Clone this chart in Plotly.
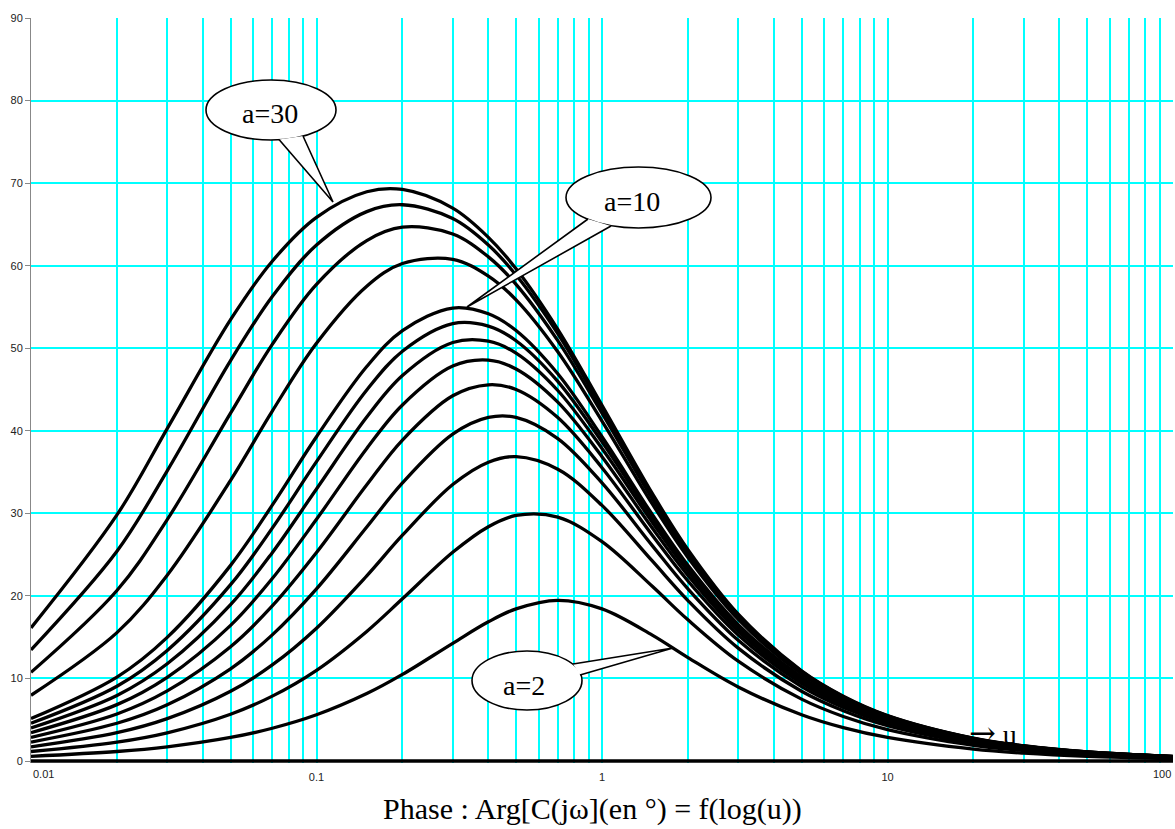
import plotly.graph_objects as go

# Normalised frequency u (log axis) and phase of C(jw) in degrees for each ratio a
u_values = [0.01, 0.02, 0.03, 0.05, 0.07, 0.1, 0.15, 0.2, 0.3, 0.4, 0.5, 0.7,
            1, 1.5, 2, 3, 5, 7, 10, 20, 30, 50, 100]

a_values = [1, 2, 3, 4, 5, 6, 7, 8, 9, 10, 15, 20, 25, 30]

phase_a1 = [0.0] * 23
phase_a2 = [0.57, 1.15, 1.72, 2.85, 3.97, 5.60, 8.17, 10.49, 14.26, 16.86, 18.43, 19.47,
            18.43, 15.25, 12.53, 8.97, 5.60, 4.04, 2.85, 1.43, 0.95, 0.57, 0.29]
phase_a3 = [1.15, 2.29, 3.42, 5.67, 7.86, 10.99, 15.70, 19.65, 25.28, 28.38, 29.74, 29.54,
            26.57, 21.16, 17.10, 12.09, 7.50, 5.40, 3.80, 1.91, 1.27, 0.76, 0.38]
phase_a4 = [1.72, 3.43, 5.13, 8.45, 11.64, 16.09, 22.43, 27.35, 33.49, 36.20, 36.87, 35.35,
            30.96, 24.23, 19.44, 13.67, 8.45, 6.09, 4.28, 2.15, 1.43, 0.86, 0.43]
phase_a5 = [2.29, 4.57, 6.81, 11.17, 15.28, 20.85, 28.34, 33.69, 39.60, 41.62, 41.62, 39.06,
            33.69, 26.09, 20.85, 14.62, 9.02, 6.49, 4.57, 2.29, 1.53, 0.92, 0.46]
phase_a6 = [2.86, 5.70, 8.49, 13.84, 18.78, 25.25, 33.45, 38.88, 44.24, 45.57, 45.00, 41.60,
            35.53, 27.35, 21.80, 15.25, 9.40, 6.76, 4.76, 2.39, 1.59, 0.96, 0.48]
phase_a7 = [3.43, 6.83, 10.14, 16.43, 22.10, 29.28, 37.86, 43.13, 47.84, 48.56, 47.49, 43.47,
            36.87, 28.22, 22.48, 15.70, 9.67, 6.96, 4.89, 2.45, 1.64, 0.98, 0.49]
phase_a8 = [4.00, 7.94, 11.78, 18.94, 25.24, 32.95, 41.66, 46.69, 50.69, 50.85, 49.40, 44.88,
            37.86, 28.93, 22.98, 16.05, 9.87, 7.10, 4.99, 2.51, 1.67, 1.00, 0.50]
phase_a9 = [4.57, 9.06, 13.39, 21.36, 28.21, 36.26, 44.94, 49.64, 52.98, 52.68, 50.91, 45.99,
            38.66, 29.45, 23.37, 16.31, 10.03, 7.22, 5.07, 2.55, 1.70, 1.02, 0.51]
phase_a10 = [5.14, 10.17, 14.98, 23.70, 30.99, 39.28, 47.78, 52.14, 54.87, 54.17, 52.14, 46.90,
             39.28, 29.87, 23.70, 16.53, 10.17, 7.31, 5.14, 2.58, 1.72, 1.03, 0.52]
phase_a15 = [7.96, 15.55, 22.51, 34.00, 42.39, 50.61, 57.52, 60.26, 60.77, 58.74, 55.86, 49.57,
             41.18, 31.14, 24.66, 17.16, 10.54, 7.58, 5.33, 2.67, 1.78, 1.07, 0.54]
phase_a20 = [10.74, 20.65, 29.24, 42.14, 50.47, 57.74, 63.04, 64.66, 63.84, 61.07, 57.74, 50.92,
             42.14, 31.77, 25.13, 17.48, 10.74, 7.72, 5.42, 2.72, 1.81, 1.09, 0.54]
phase_a25 = [13.46, 25.41, 35.15, 48.50, 56.26, 62.50, 66.55, 67.38, 65.71, 62.50, 58.86, 51.76,
             42.70, 32.15, 25.41, 17.67, 10.85, 7.80, 5.48, 2.75, 1.83, 1.10, 0.55]
phase_a30 = [16.13, 29.81, 40.27, 53.46, 60.54, 65.85, 68.95, 69.23, 66.97, 63.43, 59.62, 52.29,
             43.08, 32.41, 25.60, 17.79, 10.93, 7.86, 5.52, 2.77, 1.85, 1.11, 0.55]

phase_curves = [phase_a1, phase_a2, phase_a3, phase_a4, phase_a5, phase_a6, phase_a7,
                phase_a8, phase_a9, phase_a10, phase_a15, phase_a20, phase_a25, phase_a30]

# every 1..9 step of each decade carries a grid line; only decades get a label
decades = [0.01, 0.1, 1, 10]
grid_ticks = [m * d for d in decades for m in range(1, 10)] + [100]
decade_labels = {0.1: "0.1", 1: "1", 10: "10"}
grid_labels = [decade_labels.get(round(v, 6), "") for v in grid_ticks]

W, H = 1175, 829
L, R, T, B = 31, 2, 18, 66
PW, PH = W - L - R, H - T - B

SERIF = "Liberation Serif, Times New Roman, serif"
SANS = "Liberation Sans, Arial, sans-serif"
GRID = "#00FFFF"


def paper(px, py):
    """Convert a window pixel position into paper coordinates."""
    return (px - L) / PW, (T + PH - py) / PH


fig = go.Figure()
for a, ph in zip(a_values, phase_curves):
    fig.add_trace(go.Scatter(
        x=u_values, y=ph, mode="lines", name=f"a={a}",
        line=dict(color="black", width=3.3, shape="spline", smoothing=1.0),
        hoverinfo="skip",
    ))

shapes = []
annotations = []


def callout(cx, cy, rx, ry, base1, tip, base2, text, tdx=0, tdy=4):
    x0, y0 = paper(cx - rx, cy + ry)
    x1, y1 = paper(cx + rx, cy - ry)
    shapes.append(dict(type="circle", xref="paper", yref="paper",
                       x0=x0, y0=y0, x1=x1, y1=y1,
                       line=dict(color="black", width=1.6),
                       fillcolor="white", layer="above"))
    p1 = paper(*base1)
    pt = paper(*tip)
    p2 = paper(*base2)
    shapes.append(dict(type="path", xref="paper", yref="paper",
                       path=f"M {p1[0]},{p1[1]} L {pt[0]},{pt[1]} L {p2[0]},{p2[1]}",
                       line=dict(color="black", width=1.6),
                       fillcolor="white", layer="above"))
    tx, ty = paper(cx + tdx, cy + tdy)
    annotations.append(dict(x=tx, y=ty, xref="paper", yref="paper", text=text,
                            showarrow=False, xanchor="center", yanchor="middle",
                            font=dict(family=SERIF, size=28, color="black")))


callout(271, 110, 65, 30, (279, 139.5), (333, 202), (303, 136), "a=30", tdx=-1, tdy=3)
callout(638.5, 197.5, 72.5, 30.5, (588, 219), (467, 307), (611, 226), "a=10", tdx=-7, tdy=4)
callout(527, 680.5, 55, 29.5, (573, 664), (673, 648), (580, 675), "a=2", tdx=-3, tdy=5)

# axis end labels, aligned to the plot edges
lx, ly = paper(31, 774)
annotations.append(dict(x=lx, y=ly, xref="paper", yref="paper", text="0.01",
                        showarrow=False, xanchor="left", yanchor="middle",
                        font=dict(family=SANS, size=11, color="#222")))
rx_, ry_ = paper(1173, 774)
annotations.append(dict(x=rx_, y=ry_, xref="paper", yref="paper", text="100",
                        showarrow=False, xanchor="right", yanchor="middle",
                        font=dict(family=SANS, size=11, color="#222")))

# variable marker and title
ux, uy = paper(993, 733)
annotations.append(dict(x=ux, y=uy, xref="paper", yref="paper",
                        text='<span style="font-family:DejaVu Serif;font-size:32px">→</span> u',
                        showarrow=False, xanchor="center", yanchor="middle",
                        font=dict(family=SERIF, size=28, color="black")))
tx, ty = paper(592, 809)
annotations.append(dict(x=tx, y=ty, xref="paper", yref="paper",
                        text="Phase : Arg[C(jω](en °) = f(log(u))",
                        showarrow=False, xanchor="center", yanchor="middle",
                        font=dict(family=SERIF, size=30, color="black")))

fig.update_layout(
    width=W, height=H,
    margin=dict(l=L, r=R, t=T, b=B, pad=0),
    paper_bgcolor="white", plot_bgcolor="white",
    showlegend=False, hovermode=False,
    shapes=shapes, annotations=annotations,
    xaxis=dict(
        type="log", range=[-2, 2], automargin=False,
        tickmode="array", tickvals=grid_ticks, ticktext=grid_labels,
        ticks="", ticklabelstandoff=6,
        tickfont=dict(family=SANS, size=11, color="#222"),
        showgrid=True, gridcolor=GRID, gridwidth=2,
        showline=False, zeroline=False,
    ),
    yaxis=dict(
        range=[-0.24, 90], automargin=False,
        tickmode="array", tickvals=list(range(0, 100, 10)),
        ticks="outside", ticklen=5, tickcolor="#888", tickwidth=1,
        tickfont=dict(family=SANS, size=11, color="#222"),
        showgrid=True, gridcolor=GRID, gridwidth=2,
        showline=True, linecolor="#888", linewidth=1,
        zeroline=False,
    ),
)

fig.write_html("out.html")
